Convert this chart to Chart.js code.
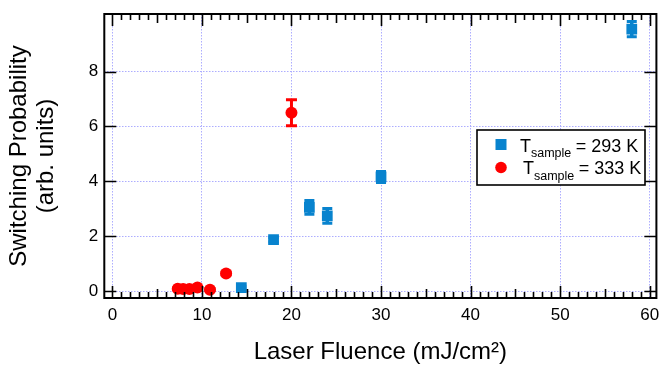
<!DOCTYPE html>
<html>
<head>
<meta charset="utf-8">
<script src="https://cdn.jsdelivr.net/npm/chart.js@4/dist/chart.umd.min.js"></script>
<style>
  html, body { margin: 0; padding: 0; background: #fff; }
  canvas { display: block; }
</style>
</head>
<body>
<canvas id="c" width="664" height="369"></canvas>
<script>
// ---- data ----
const fluence293 = [14.4, 18.0, 22.0, 24.0, 30.0, 58.0];
const prob293    = [0.12, 1.87, 3.05, 2.74, 4.16, 9.55];
const err293     = [0.05, 0.08, 0.25, 0.27, 0.20, 0.28];

const fluence333 = [7.3, 7.9, 8.6, 9.5, 10.9, 12.7, 20.0];
const prob333    = [0.08, 0.07, 0.07, 0.13, 0.05, 0.64, 6.5];
const err333     = [0.03, 0.03, 0.03, 0.03, 0.03, 0.05, 0.47];

const xTicks = [0, 10, 20, 30, 40, 50, 60];
const yTicks = [0, 2, 4, 6, 8];

const legendLabels = [
  { main: 'T', sub: 'sample', rest: '= 293 K' },
  { main: 'T', sub: 'sample', rest: '= 333 K' }
];

const BLUE = '#0883CE';
const RED = '#FF0000';
const FONT = "'Liberation Sans', Arial, Helvetica, sans-serif";

function points(xs, ys) { return xs.map((x, i) => ({ x: x, y: ys[i] })); }

const errorBars = {
  id: 'errorBars',
  beforeDatasetsDraw(chart) {
    const ctx = chart.ctx, xs = chart.scales.x, ys = chart.scales.y;
    const sets = [
      { x: fluence293, y: prob293, e: err293, color: BLUE, lw: 3.5, cap: 10 },
      { x: fluence333, y: prob333, e: err333, color: RED, lw: 3, cap: 11 }
    ];
    ctx.save();
    sets.forEach(s => {
      ctx.strokeStyle = s.color;
      s.x.forEach((xv, i) => {
        const px = xs.getPixelForValue(xv);
        const top = ys.getPixelForValue(s.y[i] + s.e[i]);
        const bot = ys.getPixelForValue(s.y[i] - s.e[i]);
        ctx.lineWidth = s.lw;
        ctx.beginPath();
        ctx.moveTo(px, top); ctx.lineTo(px, bot);
        ctx.stroke();
        ctx.lineWidth = 3;
        ctx.beginPath();
        ctx.moveTo(px - s.cap / 2, top); ctx.lineTo(px + s.cap / 2, top);
        ctx.moveTo(px - s.cap / 2, bot); ctx.lineTo(px + s.cap / 2, bot);
        ctx.stroke();
      });
    });
    ctx.restore();
  }
};

const frameAndLegend = {
  id: 'frameAndLegend',
  afterDraw(chart) {
    const ctx = chart.ctx, xs = chart.scales.x, ys = chart.scales.y;
    const a = chart.chartArea;
    ctx.save();
    // ticks
    ctx.strokeStyle = '#000';
    ctx.lineWidth = 1.6;
    ctx.beginPath();
    for (let v = Math.ceil(xs.min); v <= xs.max; v++) {
      const px = Math.round(xs.getPixelForValue(v)) + 0.5;
      const len = v % 10 === 0 ? 12 : (v % 5 === 0 ? 9 : 6);
      ctx.moveTo(px, a.bottom); ctx.lineTo(px, a.bottom - len);
      ctx.moveTo(px, a.top); ctx.lineTo(px, a.top + len);
    }
    yTicks.forEach(v => {
      const py = Math.round(ys.getPixelForValue(v)) + 0.5;
      ctx.moveTo(a.left, py); ctx.lineTo(a.left + 12, py);
      ctx.moveTo(a.right, py); ctx.lineTo(a.right - 12, py);
    });
    ctx.stroke();
    // frame
    ctx.lineWidth = 2;
    ctx.strokeRect(a.left, a.top, a.right - a.left, a.bottom - a.top);

    // legend
    const bx = 477, by = 130, bw = 168, bh = 55;
    ctx.fillStyle = '#fff';
    ctx.fillRect(bx, by, bw, bh);
    ctx.lineWidth = 1.6;
    ctx.strokeStyle = '#000';
    ctx.strokeRect(bx, by, bw, bh);
    const rows = [
      { y: 151.5, x: 520, color: BLUE, shape: 'rect' },
      { y: 174, x: 523, color: RED, shape: 'circle' }
    ];
    rows.forEach((r, i) => {
      const mx = 501, my = r.y - 7;
      ctx.fillStyle = r.color;
      if (r.shape === 'rect') {
        ctx.fillRect(mx - 5.5, my - 5.5, 11, 11);
      } else {
        ctx.beginPath(); ctx.arc(mx, my + 0.5, 5.8, 0, Math.PI * 2); ctx.fill();
      }
      const lab = legendLabels[i];
      ctx.fillStyle = '#000';
      ctx.textBaseline = 'alphabetic';
      ctx.textAlign = 'left';
      ctx.font = '18px ' + FONT;
      let tx = r.x;
      ctx.fillText(lab.main, tx, r.y);
      tx += ctx.measureText(lab.main).width;
      ctx.font = '12.5px ' + FONT;
      ctx.fillText(lab.sub, tx, r.y + 5.5);
      tx += ctx.measureText(lab.sub).width + 4.5;
      ctx.font = '18px ' + FONT;
      ctx.fillText(lab.rest, tx, r.y);
    });
    ctx.restore();
  }
};

const gridColor = '#ADADFF';
const tickFont = { family: FONT, size: 17 };

new Chart(document.getElementById('c'), {
  type: 'scatter',
  data: {
    datasets: [
      {
        label: 'T sample = 293 K',
        data: points(fluence293, prob293),
        pointStyle: 'rect',
        pointRadius: 7.6,
        backgroundColor: BLUE,
        borderColor: BLUE,
        borderWidth: 0
      },
      {
        label: 'T sample = 333 K',
        data: points(fluence333, prob333),
        pointStyle: 'circle',
        pointRadius: 6,
        backgroundColor: RED,
        borderColor: RED,
        borderWidth: 0
      }
    ]
  },
  options: {
    responsive: false,
    animation: false,
    events: [],
    layout: { padding: { top: 14, right: 5, left: 0, bottom: 0 } },
    plugins: { legend: { display: false }, tooltip: { enabled: false } },
    scales: {
      x: {
        type: 'linear',
        min: -0.9,
        max: 60.75,
        afterBuildTicks: s => { s.ticks = xTicks.map(v => ({ value: v })); },
        afterFit: s => { s.height = 71; s.paddingLeft = 0; s.paddingRight = 0; },
        grid: { color: gridColor, lineWidth: 1, drawTicks: false },
        border: { display: false, dash: [1.5, 1.5] },
        ticks: { font: tickFont, color: '#000', padding: 7, maxRotation: 0, autoSkip: false },
        title: {
          display: true,
          text: 'Laser Fluence (mJ/cm²)',
          color: '#000',
          font: { family: FONT, size: 24 },
          padding: { top: 0, bottom: 2 }
        }
      },
      y: {
        type: 'linear',
        min: -0.255,
        max: 10.1,
        afterBuildTicks: s => { s.ticks = yTicks.map(v => ({ value: v })); },
        afterFit: s => { s.width = 104.3; s.paddingTop = 0; s.paddingBottom = 0; },
        grid: { color: gridColor, lineWidth: 1, drawTicks: false },
        border: { display: false, dash: [1.5, 1.5] },
        ticks: { font: tickFont, color: '#000', padding: 6, autoSkip: false },
        title: {
          display: true,
          text: ['Switching Probability', '(arb. units)'],
          color: '#000',
          font: { family: FONT, size: 24, lineHeight: 1.125 },
          padding: { top: 5.5, bottom: 0 }
        }
      }
    }
  },
  plugins: [errorBars, frameAndLegend]
});
</script>
</body>
</html>
